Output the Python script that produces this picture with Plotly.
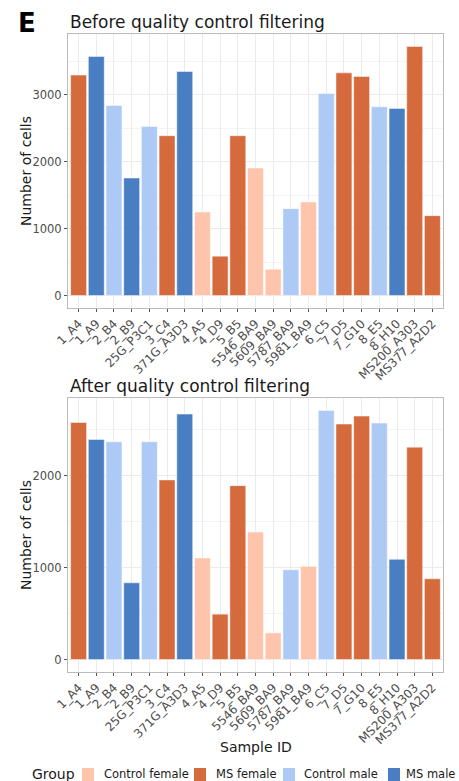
import plotly.graph_objects as go

samples = ["1_A4", "1_A9", "2_B4", "2_B9", "25G_P3C1", "3_C4", "371G_A3D3", "4_A5", "4_D9",
           "5_B5", "5546_BA9", "5609_BA9", "5787_BA9", "5981_BA9", "6_C5", "7_D5", "7_G10",
           "8_E5", "8_H10", "MS200_A303", "MS377_A2D2"]
groups = ["MS female", "MS male", "Control male", "MS male", "Control male", "MS female", "MS male",
          "Control female", "MS female", "MS female", "Control female", "Control female",
          "Control male", "Control female", "Control male", "MS female", "MS female",
          "Control male", "MS male", "MS female", "MS female"]
before_qc = [3290, 3568, 2837, 1754, 2524, 2385, 3344, 1247, 587, 2385, 1903, 393, 1297, 1396,
             3016, 3323, 3270, 2817, 2793, 3717, 1192]
after_qc = [2580, 2395, 2370, 835, 2370, 1955, 2672, 1105, 494, 1893, 1388, 290, 977, 1014,
            2711, 2563, 2650, 2574, 1091, 2312, 879]
group_order = ["Control female", "MS female", "Control male", "MS male"]
group_colors = {"Control female": "#FFC5AC", "MS female": "#D56A3C",
                "Control male": "#ADCAF6", "MS male": "#4A7EC3"}

W, H = 459, 781
def px_x(p): return p / W
def px_y(p): return 1 - p / H

fig = go.Figure()
panels = [(before_qc, "x", "y"), (after_qc, "x2", "y2")]
for vals, xa, ya in panels:
    for g in group_order:
        xs = [s for s, gg in zip(samples, groups) if gg == g]
        ys = [v for v, gg in zip(vals, groups) if gg == g]
        fig.add_trace(go.Bar(
            x=xs, y=ys, name=g, legendgroup=g, showlegend=False,
            marker=dict(color=group_colors[g], line=dict(color="rgba(255,255,255,0.6)", width=0.8)),
            width=0.9, xaxis=xa, yaxis=ya))

grid = "#EBEBEB"
xtickfont = dict(family="DejaVu Sans", size=12, color="#4D4D4D")
ytickfont = dict(family="DejaVu Sans", size=11.5, color="#4D4D4D")
xcommon = dict(type="category", categoryorder="array", categoryarray=samples,
               range=[-0.6, len(samples) - 0.4], tickangle=-45, tickfont=xtickfont,
               showgrid=True, gridcolor=grid, gridwidth=1, ticks="outside", ticklen=3,
               tickcolor="#555555", showline=True, linecolor="#BBBBBB", mirror=True,
               zeroline=False, automargin=False)
ycommon = dict(showgrid=True, gridcolor=grid, gridwidth=1, ticks="outside", ticklen=3,
               tickcolor="#555555", tickfont=ytickfont,
               showline=True, linecolor="#BBBBBB", mirror=True, zeroline=False, automargin=False,
               minor=dict(dtick=500, showgrid=True, gridcolor="#F4F4F4", gridwidth=0.5))

fig.update_layout(
    width=W, height=H, margin=dict(l=0, r=0, t=0, b=0),
    paper_bgcolor="white", plot_bgcolor="white", barmode="overlay", showlegend=False,
    font=dict(family="DejaVu Sans", color="#1A1A1A"),
    xaxis=dict(domain=[px_x(68), px_x(443)], anchor="y", **xcommon),
    yaxis=dict(domain=[px_y(308), px_y(34)], anchor="x", range=[-186, 3903],
               tickvals=[0, 1000, 2000, 3000], **ycommon),
    xaxis2=dict(domain=[px_x(68), px_x(443)], anchor="y2", **xcommon),
    yaxis2=dict(domain=[px_y(672), px_y(398)], anchor="x2", range=[-136, 2847],
                tickvals=[0, 1000, 2000], **ycommon),
)

ann = [
    dict(text="<b>E</b>", x=px_x(16), y=px_y(23), xanchor="left", yanchor="middle", font=dict(size=26, color="black")),
    dict(text="Before quality control filtering", x=px_x(68), y=px_y(21.5), xanchor="left", yanchor="middle", font=dict(size=17)),
    dict(text="After quality control filtering", x=px_x(68), y=px_y(386), xanchor="left", yanchor="middle", font=dict(size=17)),
    dict(text="Number of cells", x=px_x(26), y=px_y(171), textangle=-90, xanchor="center", yanchor="middle", font=dict(size=14)),
    dict(text="Number of cells", x=px_x(26), y=px_y(535), textangle=-90, xanchor="center", yanchor="middle", font=dict(size=14)),
    dict(text="Sample ID", x=px_x(256), y=px_y(747), xanchor="center", yanchor="middle", font=dict(size=14)),
    dict(text="Group", x=px_x(30), y=px_y(774), xanchor="left", yanchor="middle", font=dict(size=14)),
]
for a in ann:
    fig.add_annotation(xref="paper", yref="paper", showarrow=False, **a)

# legend keys (squares) and labels
legend_pos = {"Control female": (82, 102), "MS female": (194, 214),
              "Control male": (283, 302), "MS male": (388, 404)}
for g in group_order:
    sx, tx = legend_pos[g]
    fig.add_shape(type="rect", xref="paper", yref="paper",
                  x0=px_x(sx), x1=px_x(sx + 12), y0=px_y(781), y1=px_y(768),
                  fillcolor=group_colors[g], line=dict(width=0))
    fig.add_annotation(text=g, x=px_x(tx), y=px_y(774), xref="paper", yref="paper",
                       xanchor="left", yanchor="middle", showarrow=False,
                       font=dict(size=11.5, color="#1A1A1A"))

fig.write_html("out.html", config={"displayModeBar": False},
               post_script="document.body.style.margin='0';document.body.style.overflow='hidden';")
